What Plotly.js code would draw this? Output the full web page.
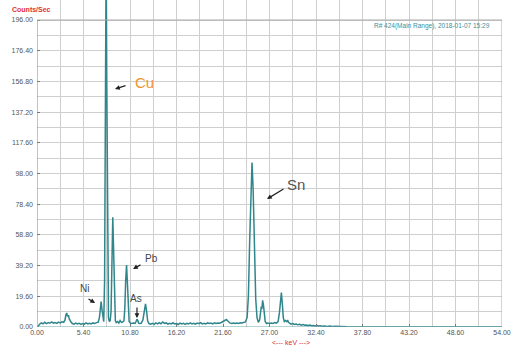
<!DOCTYPE html>
<html>
<head>
<meta charset="utf-8">
<script src="https://cdn.plot.ly/plotly-3.0.1.min.js"></script>
<style>html,body{margin:0;padding:0;background:#fff;}#chart{width:517px;height:347px;}</style>
</head>
<body>
<div id="chart"></div>
<script>
// Spectrum: energy (keV) and counts per second
const energyKeV = [0.0,0.15,0.3,0.5,0.7,0.9,1.1,1.3,1.5,1.7,1.9,2.1,2.3,2.5,2.7,2.9,3.1,3.25,3.35,3.45,3.55,3.65,3.75,3.85,3.95,4.1,4.3,4.5,4.7,4.9,5.1,5.3,5.5,5.7,5.9,6.1,6.3,6.5,6.7,6.9,7.1,7.25,7.35,7.45,7.55,7.65,7.75,7.85,7.95,8.03,8.1,8.2,8.3,8.4,8.5,8.6,8.7,8.8,8.9,9.0,9.1,9.2,9.35,9.5,9.65,9.8,9.95,10.1,10.2,10.3,10.4,10.5,10.6,10.7,10.85,11.0,11.2,11.4,11.5,11.6,11.7,11.8,11.95,12.1,12.3,12.45,12.6,12.72,12.85,13.0,13.2,13.4,13.6,13.8,14.0,14.2,14.4,14.6,14.8,15.0,15.2,15.4,15.6,15.8,16.0,16.2,16.4,16.6,16.8,17.0,17.2,17.4,17.6,17.8,18.0,18.2,18.4,18.6,18.8,19.0,19.2,19.4,19.6,19.8,20.0,20.2,20.4,20.6,20.8,21.0,21.2,21.4,21.6,21.8,22.0,22.1,22.25,22.4,22.6,22.8,23.0,23.2,23.4,23.6,23.8,24.0,24.2,24.4,24.55,24.7,24.85,24.97,25.1,25.25,25.4,25.55,25.7,25.85,25.95,26.05,26.12,26.2,26.3,26.4,26.5,26.65,26.8,27.0,27.2,27.4,27.6,27.8,28.0,28.15,28.28,28.38,28.5,28.6,28.72,28.85,29.0,29.1,29.2,29.35,29.5,29.7,29.9,30.1,30.3,30.5,30.7,30.9,31.1,31.3,31.5,31.7,31.9,32.1,32.3,32.5,32.7,32.9,33.1,33.4,33.7,34.0,34.3,34.6,35.0,35.5,36.0,37.0,54.0];
const countsPerSec = [0,0.5,1.8,2.6,2.0,3.0,2.2,2.8,2.4,3.2,2.5,2.9,2.3,3.1,2.6,3.3,3.0,4.5,7.5,9.0,6.8,7.6,5.2,4.0,3.2,2.2,1.8,2.5,1.9,2.4,1.7,2.2,1.8,2.6,2.0,2.4,2.0,2.6,2.2,2.8,3.0,6.0,12.0,16.2,11.0,4.5,3.5,30,150,240,160,40,6,3.5,4,10,45,70,48,12,4,2.8,3.5,2.5,4.2,3.0,3.2,4.0,12,30,39.6,28,10,3.5,2.5,2.2,2.6,2.4,3.5,5.0,4.2,2.5,2.2,2.4,4.5,10,14.7,10.5,4,2.2,1.8,2.3,1.7,2.6,2.0,2.8,2.0,3.2,2.3,2.6,1.8,2.4,2.0,2.7,1.9,2.2,1.6,2.5,2.0,2.4,1.7,2.3,1.9,2.6,2.0,2.3,1.8,2.5,2.1,2.8,2.0,2.4,1.9,2.6,2.2,2.5,2.0,2.7,2.3,2.6,2.4,2.9,3.4,4.2,4.8,4.2,3.0,2.6,2.3,2.6,2.2,2.5,2.3,2.7,2.5,2.9,3.2,6,20,55,90,105,88,50,18,6,3.0,4.5,8,13,11.5,17,14,8,3.5,2.2,2.5,2.3,2.6,2.2,2.8,2.5,3.5,9,18,22,14,6,3.5,4.2,3.5,4.4,3.0,2.5,1.8,2.2,1.6,1.9,1.4,1.7,1.2,1.5,1.1,1.3,0.9,1.2,0.8,1.0,0.7,0.9,0.6,0.8,0.5,0.7,0.4,0.6,0.3,0.5,0.3,0.2,0.1,0,0];

const yMajorTicks = [0,19.6,39.2,58.8,78.4,98.0,117.6,137.2,156.8,176.4,196.0];
const yMinorTicks = [9.8,29.4,49.0,68.6,88.2,107.8,127.4,147.0,166.6,186.2];
const xMajorTicks = [0,5.4,10.8,16.2,21.6,27.0,32.4,37.8,43.2,48.6,54.0];
const xMinorTicks = [2.7,8.1,13.5,18.9,24.3,29.7,35.1,40.5,45.9,51.3];

const peakLabels = ['Cu','Sn','Pb','Ni','As'];
const labelX = [12.54,30.08,13.24,5.46,11.5];
const labelY = [156.4,90.7,44.05,24.3,17.9];
const arrowHeadX = [9.06,26.71,11.15,6.74,11.61];
const arrowHeadY = [151.9,81.7,37.0,15.3,5.75];

const labelStyle = [
  {color:'#f0952a', size:15, ax:12, ay:-4},
  {color:'#555555', size:15, ax:18, ay:-11},
  {color:'#444444', size:10, ax:9, ay:-5},
  {color:'#444444', size:10, ax:-8, ay:-5},
  {color:'#444444', size:10, ax:0, ay:-12}
];

const annotations = [];
peakLabels.forEach((t,i)=>{
  annotations.push({x:labelX[i], y:labelY[i], xref:'x', yref:'y', text:t, showarrow:false,
    font:{family:'Liberation Sans, Arial', size:labelStyle[i].size, color:labelStyle[i].color}});
  annotations.push({x:arrowHeadX[i], y:arrowHeadY[i], xref:'x', yref:'y', text:'', showarrow:true,
    ax:labelStyle[i].ax, ay:labelStyle[i].ay, arrowhead:2, arrowsize:0.8, arrowwidth:1.2, arrowcolor:'#222'});
});
annotations.push({x:-0.058, y:0.972, xref:'paper', yref:'paper', xanchor:'left', yanchor:'middle',
  text:'<b>Counts/Sec</b>', showarrow:false, font:{family:'Liberation Sans, Arial', size:7, color:'#e03030'}});
annotations.push({x:0.546, y:-0.046, xref:'paper', yref:'paper', xanchor:'center', yanchor:'middle',
  text:'&lt;--- keV ---&gt;', showarrow:false, font:{family:'Liberation Sans, Arial', size:7, color:'#e03030'}});
annotations.push({x:0.978, y:0.922, xref:'paper', yref:'paper', xanchor:'right', yanchor:'middle',
  text:'R# 424(Main Range), 2018-01-07 15:29', showarrow:false, font:{family:'Liberation Sans, Arial', size:6.5, color:'#3a8f9c'}});

const trace = {
  x: energyKeV, y: countsPerSec, type:'scatter', mode:'lines',
  line:{color:'#2f868b', width:1.5}, hoverinfo:'skip'
};

const layout = {
  width:517, height:347,
  margin:{l:37, r:15, t:0, b:20},
  paper_bgcolor:'#ffffff', plot_bgcolor:'#ffffff',
  showlegend:false,
  font:{family:'Liberation Sans, Arial', size:7, color:'#555'},
  xaxis:{
    range:[0,54], tickmode:'array', tickvals:xMajorTicks,
    ticktext: xMajorTicks.map(v=>v.toFixed(2)),
    showgrid:true, gridcolor:'#cfcfcf', gridwidth:1, zeroline:false, showline:false,
    ticks:'inside', ticklen:3, tickcolor:'#777',
    minor:{tickmode:'array', tickvals:xMinorTicks, showgrid:true, gridcolor:'#cfcfcf', gridwidth:1, ticks:''},
    tickfont:{size:7, color:'#555'}
  },
  yaxis:{
    range:[0,208.77], tickmode:'array', tickvals:yMajorTicks,
    ticktext: yMajorTicks.map(v=>v.toFixed(2)),
    showgrid:true, gridcolor:'#cfcfcf', gridwidth:1, zeroline:false, showline:false,
    ticks:'inside', ticklen:3, tickcolor:'#777', ticklabelstandoff:3,
    minor:{tickmode:'array', tickvals:yMinorTicks, showgrid:true, gridcolor:'#cfcfcf', gridwidth:1, ticks:''},
    tickfont:{size:7, color:'#555'}
  },
  shapes:[
    {type:'line', xref:'x', yref:'y', x0:0, x1:0, y0:0, y1:196, line:{color:'#888', width:1}},
    {type:'line', xref:'x', yref:'y', x0:54, x1:54, y0:0, y1:196, line:{color:'#aaa', width:1}},
    {type:'line', xref:'x', yref:'y', x0:0, x1:54, y0:196, y1:196, line:{color:'#aaa', width:1}},
    {type:'line', xref:'x', yref:'y', x0:0, x1:54, y0:0, y1:0, line:{color:'#6aa6a8', width:1}}
  ],
  annotations: annotations
};

Plotly.newPlot('chart', [trace], layout, {displayModeBar:false, staticPlot:true});
</script>
</body>
</html>
